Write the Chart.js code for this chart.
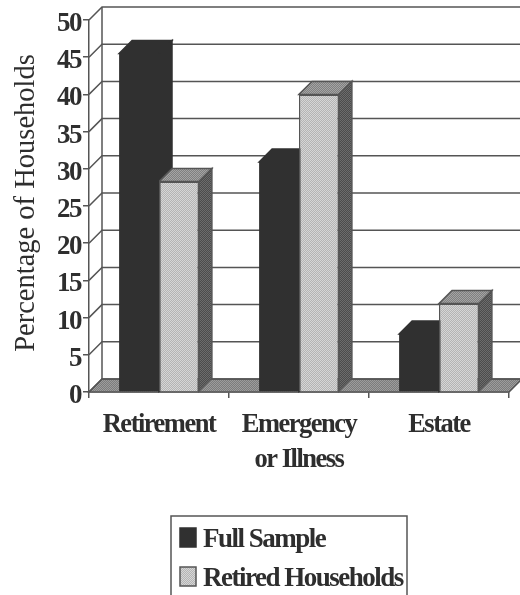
<!DOCTYPE html>
<html>
<head>
<meta charset="utf-8">
<title>Percentage of Households</title>
<script src="https://cdn.jsdelivr.net/npm/chart.js@4/dist/chart.umd.min.js"></script>
<style>
    html, body { margin: 0; padding: 0; background: #fff; }
    /* the reference is a soft scan */
    #chart { display: block; filter: blur(0.45px); }
</style>
</head>
<body>
<canvas id="chart" width="520" height="595"></canvas>
<script>
const categories = [['Retirement'], ['Emergency', 'or Illness'], ['Estate']];
const fullSample = [45.5, 30.9, 7.8];
const retiredHouseholds = [28.3, 40, 11.9];
const yTicks = [0, 5, 10, 15, 20, 25, 30, 35, 40, 45, 50];
const yTitle = 'Percentage of Households';

const fontFamily = '"Liberation Serif", serif';
const textColor = '#2e2e2e';
const lineColor = '#555';
const depth = 13;

// small 2x2 dither, the print has a stippled grey
function stipple(a, b) {
    const c = document.createElement('canvas');
    c.width = 2;
    c.height = 2;
    const g = c.getContext('2d');
    g.fillStyle = a;
    g.fillRect(0, 0, 2, 2);
    g.fillStyle = b;
    g.fillRect(0, 0, 1, 1);
    g.fillRect(1, 1, 1, 1);
    return g.createPattern(c, 'repeat');
}

// colours of front, top, side and outline for each series
const shades = [
    { front: '#303030', top: '#303030', side: '#303030', edge: '#303030' },
    { front: stipple('#b4b4b4', '#d6d6d6'), top: stipple('#808080', '#a4a4a4'), side: stipple('#4c4c4c', '#6c6c6c'), edge: lineColor }
];
const floorFill = stipple('#7c7c7c', '#9c9c9c');

// 3d look: back wall + floor go behind the bars, then each bar gets its top and side
const walls = {
    id: 'walls',
    beforeDraw(chart) {
        chart.ctx.letterSpacing = '-1.5px';
    },
    beforeDatasetsDraw(chart) {
        const ctx = chart.ctx;
        const x = chart.scales.x;
        const y = chart.scales.y;
        const left = x.left;
        const end = chart.width;
        const bottom = y.getPixelForValue(0);

        ctx.save();
        ctx.strokeStyle = lineColor;
        ctx.lineWidth = 1.5;

        // floor
        ctx.fillStyle = floorFill;
        ctx.beginPath();
        ctx.moveTo(left, bottom);
        ctx.lineTo(left + depth, bottom - depth);
        ctx.lineTo(x.right + depth, bottom - depth);
        ctx.lineTo(x.right, bottom);
        ctx.closePath();
        ctx.fill();
        ctx.stroke();

        // gridlines on the wall and the diagonals to the axis
        yTicks.forEach(function (t) {
            const py = y.getPixelForValue(t);
            ctx.beginPath();
            ctx.moveTo(left, py);
            ctx.lineTo(left + depth, py - depth);
            ctx.lineTo(end, py - depth);
            ctx.stroke();
        });
        ctx.beginPath();
        ctx.moveTo(left + depth, y.getPixelForValue(50) - depth);
        ctx.lineTo(left + depth, bottom - depth);
        ctx.stroke();

        // bar tops and sides
        chart.data.datasets.forEach(function (ds, i) {
            ctx.strokeStyle = shades[i].edge;
            chart.getDatasetMeta(i).data.forEach(function (bar) {
                const l = bar.x - bar.width / 2;
                const r = bar.x + bar.width / 2;
                const t = bar.y;
                const b = bar.base;
                ctx.fillStyle = shades[i].top;
                ctx.beginPath();
                ctx.moveTo(l, t);
                ctx.lineTo(l + depth, t - depth);
                ctx.lineTo(r + depth, t - depth);
                ctx.lineTo(r, t);
                ctx.closePath();
                ctx.fill();
                ctx.stroke();
                ctx.fillStyle = shades[i].side;
                ctx.beginPath();
                ctx.moveTo(r, t);
                ctx.lineTo(r + depth, t - depth);
                ctx.lineTo(r + depth, b - depth);
                ctx.lineTo(r, b);
                ctx.closePath();
                ctx.fill();
                ctx.stroke();
            });
        });
        ctx.restore();
    },
    afterDraw(chart) {
        const ctx = chart.ctx;
        ctx.save();

        // axis title, drawn here because it is not tightened like the other text
        ctx.save();
        ctx.letterSpacing = '0px';
        ctx.translate(34, 203);
        ctx.rotate(-Math.PI / 2);
        ctx.font = '28.5px ' + fontFamily;
        ctx.fillStyle = textColor;
        ctx.textAlign = 'center';
        ctx.textBaseline = 'alphabetic';
        ctx.fillText(yTitle, 0, 0);
        ctx.restore();

        // legend box, two rows
        const rows = [547, 586];
        ctx.strokeStyle = lineColor;
        ctx.lineWidth = 1.5;
        ctx.strokeRect(171, 516, 236, 90);
        ctx.font = 'bold 27px ' + fontFamily;
        ctx.textBaseline = 'alphabetic';
        chart.data.datasets.forEach(function (ds, i) {
            ctx.fillStyle = shades[i].front;
            ctx.strokeStyle = shades[i].edge;
            ctx.fillRect(180, rows[i] - 19, 16, 19);
            ctx.strokeRect(180, rows[i] - 19, 16, 19);
            ctx.fillStyle = textColor;
            ctx.fillText(ds.label, 203, rows[i]);
        });
        ctx.restore();
    }
};

new Chart(document.getElementById('chart'), {
    type: 'bar',
    data: {
        labels: categories,
        datasets: [
            { label: 'Full Sample', data: fullSample, backgroundColor: shades[0].front, borderWidth: 0 },
            { label: 'Retired Households', data: retiredHouseholds, backgroundColor: shades[1].front, borderColor: shades[1].edge, borderWidth: 1.5 }
        ]
    },
    options: {
        responsive: false,
        animation: false,
        layout: { padding: { top: 20, right: 11, bottom: 0, left: 0 } },
        datasets: { bar: { categoryPercentage: 0.57, barPercentage: 1 } },
        scales: {
            x: {
                afterFit: function (s) { s.height = 203; },
                grid: { drawOnChartArea: false, color: lineColor, lineWidth: 1.5, tickLength: 6 },
                border: { color: lineColor, width: 1.5 },
                ticks: {
                    color: textColor,
                    padding: 10,
                    maxRotation: 0,
                    font: { family: fontFamily, size: 26.5, weight: 'bold', lineHeight: 1.32 }
                }
            },
            y: {
                min: 0,
                max: 50,
                afterFit: function (s) { s.width = 89; },
                afterBuildTicks: function (s) { s.ticks = yTicks.map(function (v) { return { value: v }; }); },
                grid: { drawOnChartArea: false, color: lineColor, lineWidth: 1.5, tickLength: 6 },
                border: { color: lineColor, width: 1.5 },
                ticks: {
                    color: textColor,
                    padding: 2,
                    // empty first line pushes the number down half a line, they sit low in the reference
                    callback: function (v) { return ['', String(v)]; },
                    font: { family: fontFamily, size: 27, weight: 'bold', lineHeight: 0.3 }
                }
            }
        },
        plugins: { legend: { display: false }, tooltip: { enabled: false } }
    },
    plugins: [walls]
});
</script>
</body>
</html>
